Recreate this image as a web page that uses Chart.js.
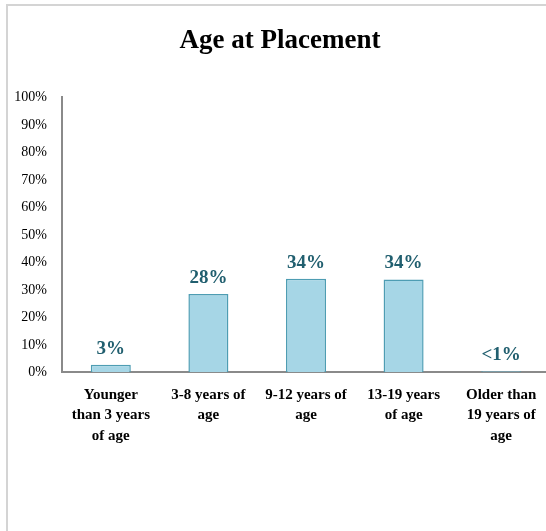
<!DOCTYPE html>
<html>
<head>
<meta charset="utf-8">
<script src="https://cdn.jsdelivr.net/npm/chart.js@4"></script>
<style>
  html, body { margin: 0; padding: 0; overflow: hidden; background: #fff; }
  #frame { position: absolute; left: 6px; top: 4px; width: 560px; height: 540px;
           border-left: 2px solid #d4d4d4; border-top: 2px solid #d4d4d4; }
  #wrap { position: absolute; left: 0; top: 0; width: 550px; height: 531px; }
</style>
</head>
<body>
<div id="frame"></div>
<div id="wrap"><canvas id="ageChart"></canvas></div>
<script>
const categories = [
  ["Younger", "than 3 years", "of age"],
  ["3-8 years of", "age"],
  ["9-12 years of", "age"],
  ["13-19 years", "of age"],
  ["Older than", "19 years of", "age"]
];
const shares = [2.8, 28.5, 34, 33.8, 0.4];
const shareLabels = ["3%", "28%", "34%", "34%", "<1%"];

const serif = "'Liberation Serif', 'Times New Roman', serif";

const barLabels = {
  id: "barLabels",
  afterDatasetsDraw(chart) {
    const ctx = chart.ctx;
    const meta = chart.getDatasetMeta(0);
    ctx.save();
    ctx.font = "bold 19px " + serif;
    ctx.fillStyle = "#215f6f";
    ctx.textAlign = "center";
    ctx.textBaseline = "alphabetic";
    meta.data.forEach((bar, i) => {
      ctx.fillText(shareLabels[i], bar.x, bar.y - 11);
    });
    ctx.restore();
  }
};

document.addEventListener("DOMContentLoaded", () => {
  const ctx = document.getElementById("ageChart").getContext("2d");

  new Chart(ctx, {
    type: "bar",
    data: {
      labels: categories,
      datasets: [{
        data: shares,
        backgroundColor: "#a6d6e6",
        borderColor: "#4e9db3",
        borderWidth: 1.5,
        barPercentage: 0.41,
        categoryPercentage: 1
      }]
    },
    options: {
      responsive: true,
      maintainAspectRatio: false,
      animation: false,
      layout: { padding: { left: 10, right: 0, top: 10, bottom: 81 } },
      plugins: {
        legend: { display: false },
        tooltip: { enabled: false },
        title: {
          display: true,
          text: "Age at Placement",
          color: "#000",
          font: { family: serif, size: 27, weight: "bold" },
          padding: { top: 15, bottom: 40 }
        }
      },
      scales: {
        x: {
          grid: { display: false },
          border: { display: true, color: "#8a8a8a", width: 2 },
          ticks: {
            color: "#000",
            maxRotation: 0,
            autoSkip: false,
            padding: 4,
            font: { family: serif, size: 15, weight: "bold", lineHeight: 1.37 }
          }
        },
        y: {
          min: 0,
          max: 100,
          grid: { display: false },
          border: { display: true, color: "#8a8a8a", width: 2 },
          afterFit: scale => { scale.width = 52; },
          ticks: {
            stepSize: 10,
            color: "#000",
            padding: 7,
            font: { family: serif, size: 14 },
            callback: v => v + "%"
          }
        }
      }
    },
    plugins: [barLabels]
  });
});
</script>
</body>
</html>
